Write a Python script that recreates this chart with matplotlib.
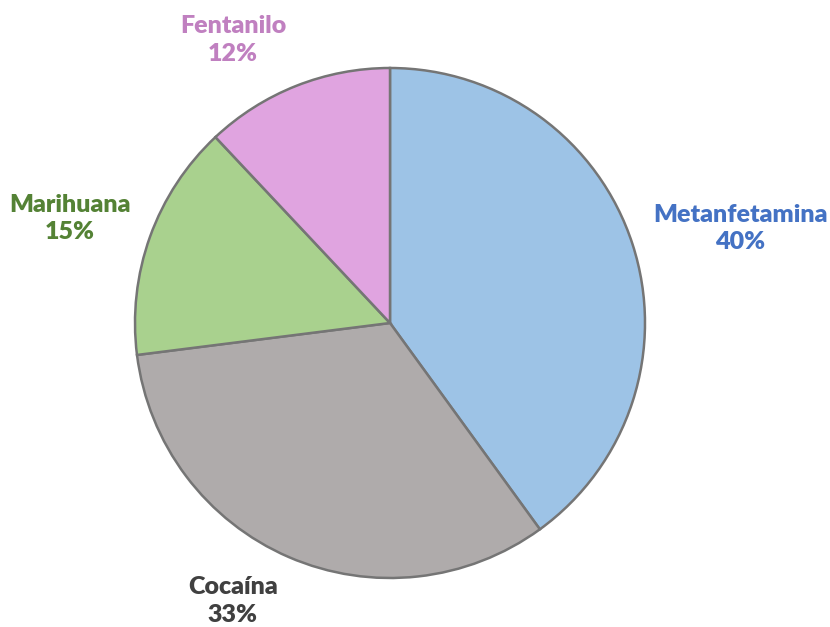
import matplotlib
matplotlib.use("Agg")
import matplotlib.pyplot as plt

labels = ["Metanfetamina", "Cocaína", "Marihuana", "Fentanilo"]
shares = [40, 33, 15, 12]
fill_colors = ["#9DC3E6", "#AFABAB", "#A9D18E", "#E0A4E0"]
text_colors = ["#4472C4", "#404040", "#548235", "#C080C0"]

# label centres in axes data units (pie radius = 1)
label_pos = [(1.373, 0.37), (-0.616, -1.09), (-1.255, 0.41), (-0.616, 1.11)]

W, H = 830, 627
cx, cy, r = 390, 323, 255

fig = plt.figure(figsize=(W / 100, H / 100), dpi=100)
ax = fig.add_axes([(cx - r) / W, (H - cy - r) / H, 2 * r / W, 2 * r / H])
ax.axis("off")

ax.pie(shares, colors=fill_colors, startangle=90, counterclock=False, radius=1,
       wedgeprops=dict(edgecolor="#757575", linewidth=1.8))
ax.set_xlim(-1, 1)
ax.set_ylim(-1, 1)
ax.set_aspect("equal")

for name, val, col, (x, y) in zip(labels, shares, text_colors, label_pos):
    ax.text(x, y, f"{name}\n{val}%", color=col, ha="center", va="center",
            fontsize=18, fontweight="heavy", family="Lato", linespacing=1.3,
            clip_on=False)

fig.savefig("out.png", dpi=100)
